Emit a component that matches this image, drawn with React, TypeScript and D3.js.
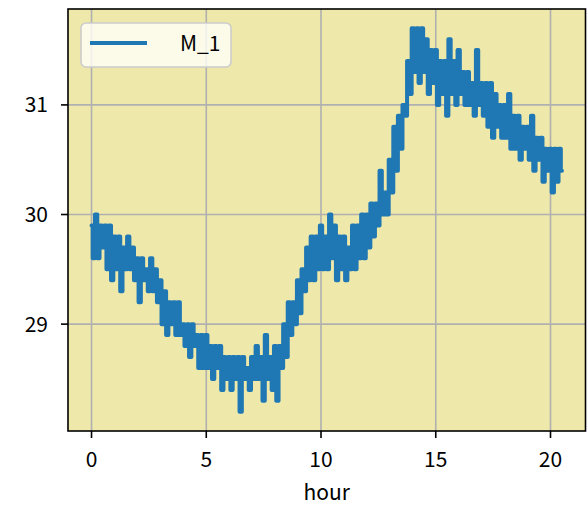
import React from "react";
import * as d3 from "d3";

const seriesName = "M_1";
const xLabel = "hour";
const timeStep = 0.1; // hours between samples
const values: number[] = [
  29.9, 29.6, 30.0, 29.6, 29.9, 29.7, 29.9, 29.5, 29.9, 29.4,
  29.8, 29.5, 29.8, 29.3, 29.7, 29.5, 29.8, 29.5, 29.7, 29.4,
  29.6, 29.2, 29.6, 29.4, 29.5, 29.3, 29.6, 29.3, 29.5, 29.2,
  29.4, 29.0, 29.3, 28.9, 29.2, 29.0, 29.2, 28.9, 29.2, 28.9,
  29.0, 28.8, 29.0, 28.7, 29.0, 28.8, 28.9, 28.6, 28.9, 28.6,
  28.9, 28.6, 28.8, 28.5, 28.8, 28.6, 28.8, 28.4, 28.7, 28.5,
  28.7, 28.4, 28.7, 28.5, 28.7, 28.2, 28.7, 28.5, 28.6, 28.4,
  28.7, 28.5, 28.8, 28.5, 28.7, 28.3, 28.9, 28.5, 28.7, 28.4,
  28.8, 28.3, 28.8, 28.6, 29.0, 28.7, 29.2, 28.9, 29.2, 29.0,
  29.4, 29.1, 29.5, 29.3, 29.7, 29.4, 29.8, 29.4, 29.8, 29.5,
  29.9, 29.5, 29.8, 29.5, 30.0, 29.6, 29.9, 29.4, 29.8, 29.5,
  29.8, 29.4, 29.7, 29.5, 29.9, 29.5, 29.9, 29.6, 30.0, 29.6,
  30.0, 29.7, 30.1, 29.8, 30.1, 29.9, 30.4, 30.0, 30.2, 30.0,
  30.5, 30.2, 30.8, 30.4, 30.9, 30.6, 31.0, 30.9, 31.4, 31.1,
  31.7, 31.3, 31.7, 31.2, 31.7, 31.3, 31.6, 31.1, 31.5, 31.2,
  31.5, 31.0, 31.4, 31.1, 31.4, 30.9, 31.6, 31.1, 31.4, 31.0,
  31.5, 31.1, 31.3, 31.0, 31.3, 31.0, 31.2, 30.9, 31.5, 31.0,
  31.2, 30.9, 31.2, 30.8, 31.2, 30.7, 31.1, 30.8, 31.0, 30.7,
  31.0, 30.7, 31.1, 30.6, 30.9, 30.6, 30.9, 30.5, 30.8, 30.6,
  30.8, 30.5, 30.9, 30.4, 30.7, 30.5, 30.7, 30.3, 30.6, 30.4,
  30.6, 30.2, 30.6, 30.3, 30.6, 30.4,
];
const xTicks = [0, 5, 10, 15, 20];
const yTicks = [29, 30, 31];

const W = 587;
const H = 520;
const left = 68;
const right = 585.5;
const top = 9;
const bottom = 431;
const FONT = "'Noto Sans CJK JP', 'Noto Sans', sans-serif";

export default function App() {
  const data = values.map((v, i) => ({ t: i * timeStep, v }));
  const tExt = d3.extent(data, (d) => d.t) as [number, number];
  const vExt = d3.extent(data, (d) => d.v) as [number, number];
  const tPad = (tExt[1] - tExt[0]) * 0.05;
  const vPad = (vExt[1] - vExt[0]) * 0.05;
  const x = d3.scaleLinear().domain([tExt[0] - tPad, tExt[1] + tPad]).range([left, right]);
  const y = d3.scaleLinear().domain([vExt[0] - vPad, vExt[1] + vPad]).range([bottom, top]);
  const line = d3
    .line<{ t: number; v: number }>()
    .x((d) => x(d.t))
    .y((d) => y(d.v))
    .curve(d3.curveStep);

  return (
    <svg
      width={W}
      height={H}
      style={{ position: "absolute", left: 0, top: 0, background: "#fff" }}
      fontFamily={FONT}
    >
      <defs>
        <clipPath id="plotclip">
          <rect x={left} y={top} width={right - left} height={bottom - top} />
        </clipPath>
      </defs>
      <rect x={left} y={top} width={right - left} height={bottom - top} fill="#eee8aa" />
      {xTicks.map((t) => (
        <line key={"gx" + t} x1={x(t)} x2={x(t)} y1={top} y2={bottom} stroke="#b0b0b0" strokeWidth={1.6} />
      ))}
      {yTicks.map((t) => (
        <line key={"gy" + t} x1={left} x2={right} y1={y(t)} y2={y(t)} stroke="#b0b0b0" strokeWidth={1.6} />
      ))}
      <path
        d={line(data) || ""}
        fill="none"
        stroke="#1f77b4"
        strokeWidth={4}
        strokeLinejoin="round"
        strokeLinecap="round"
        clipPath="url(#plotclip)"
      />
      <rect
        x={left}
        y={top}
        width={right - left}
        height={bottom - top}
        fill="none"
        stroke="#000"
        strokeWidth={1.6}
      />
      {xTicks.map((t) => (
        <g key={"tx" + t}>
          <line x1={x(t)} x2={x(t)} y1={bottom} y2={bottom + 7} stroke="#000" strokeWidth={1.6} />
          <text x={x(t)} y={bottom + 36} textAnchor="middle" fontSize={21} fill="#000">
            {t}
          </text>
        </g>
      ))}
      {yTicks.map((t) => (
        <g key={"ty" + t}>
          <line x1={left - 7} x2={left} y1={y(t)} y2={y(t)} stroke="#000" strokeWidth={1.6} />
          <text x={left - 20} y={y(t)} dy="0.36em" textAnchor="end" fontSize={21} fill="#000">
            {t}
          </text>
        </g>
      ))}
      <text x={(left + right) / 2} y={500} textAnchor="middle" fontSize={21} fill="#000">
        {xLabel}
      </text>
      <g>
        <rect x={81} y={23} width={150} height={44} rx={5} ry={5} fill="#fffffa" fillOpacity={0.8} stroke="#cccccc" strokeWidth={1.6} />
        <line x1={90} x2={147} y1={43} y2={43} stroke="#1f77b4" strokeWidth={4} />
        <text x={180} y={43} dy="0.36em" fontSize={21} fill="#000">
          {seriesName}
        </text>
      </g>
    </svg>
  );
}
